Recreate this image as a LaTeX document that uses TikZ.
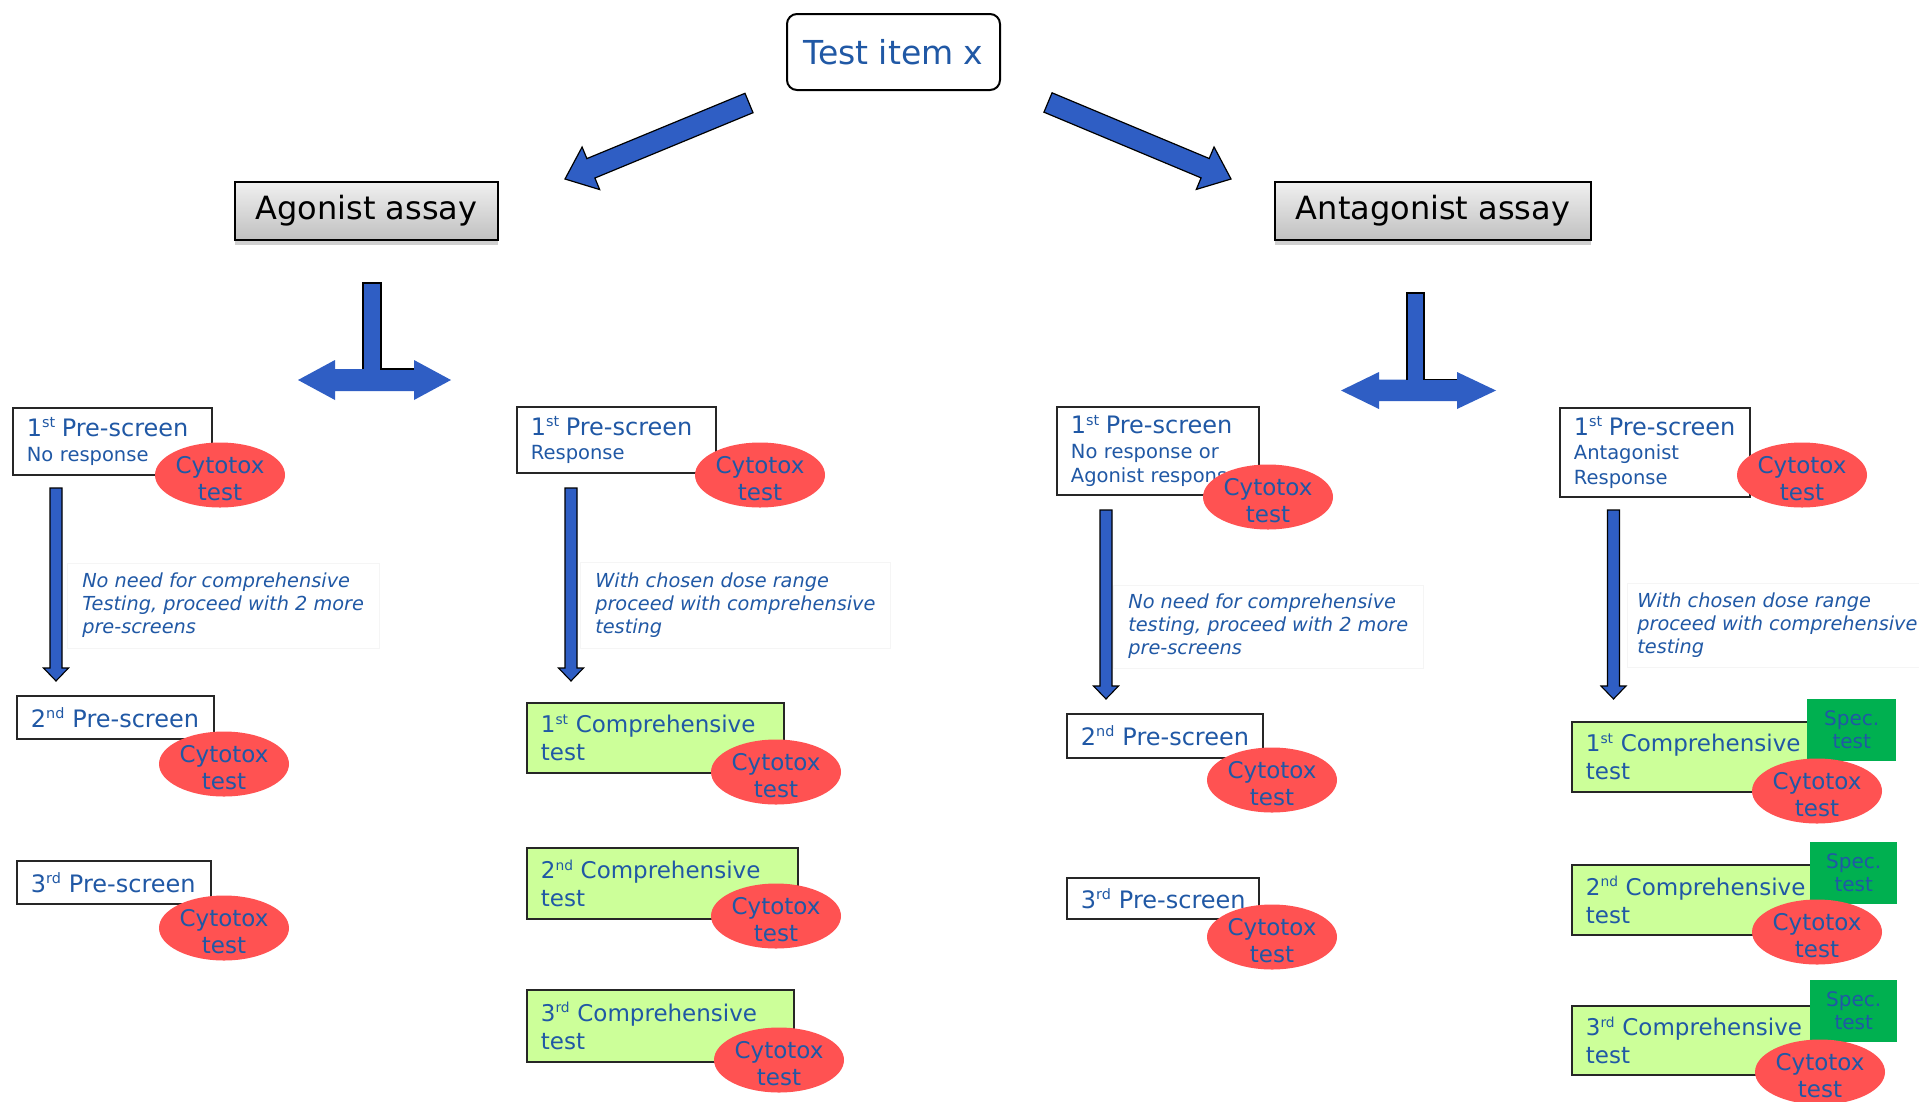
\documentclass[tikz,border=0pt]{standalone}
\usepackage{fontspec}
\setmainfont{DejaVu Sans}
\usepackage{graphicx}
\usetikzlibrary{calc,shapes.geometric,shadows}
\exhyphenpenalty=10000
\hyphenpenalty=10000

\definecolor{txtblue}{RGB}{32,88,165}
\definecolor{arrblue}{RGB}{47,94,196}
\definecolor{cytored}{RGB}{255,82,82}
\definecolor{compgreen}{RGB}{204,255,153}
\definecolor{specgreen}{RGB}{0,176,80}
\definecolor{assaytop}{RGB}{240,240,240}
\definecolor{assaybot}{RGB}{192,192,192}

\newcommand{\sups}[1]{\raisebox{0.36em}{\scalebox{0.6}{#1}}}
\newcommand{\fs}[2]{\fontsize{#1}{#2}\selectfont}

% style, from, to, half shaft, half head, head length
\newcommand{\blockarrow}[6]{%
  \coordinate (ba-n) at ($(#3)!#6!(#2)$);
  \path[#1] ($(#2)!#4!90:(#3)$) -- ($(ba-n)!#4!90:(#3)$) -- ($(ba-n)!#5!90:(#3)$) -- (#3)
     -- ($(ba-n)!#5!-90:(#3)$) -- ($(ba-n)!#4!-90:(#3)$) -- ($(#2)!#4!-90:(#3)$) -- cycle;
}

\tikzset{
  box/.style={draw=black!85, line width=1.8pt, fill=white, anchor=north west,
    inner xsep=14pt, inner ysep=0pt, align=left, text=txtblue, font=\fs{19.5}{24.5}},
  onebox/.style={box, font=\fs{24}{27}},
  compbox/.style={box, fill=compgreen, font=\fs{23}{28}},
  cyto/.style={ellipse, fill=cytored, minimum width=130pt, minimum height=65pt,
    inner sep=-8pt, align=center, text=txtblue, font=\fs{23}{27}},
  spec/.style={fill=specgreen, anchor=north west, inner sep=0pt, align=center,
    text=txtblue, font=\fs{20}{23}},
  note/.style={draw=black!4, line width=0.6pt, fill=white, anchor=west,
    inner xsep=15pt, inner ysep=0pt, align=left, text=txtblue, font=\fs{19.3}{23}\itshape},
  assay/.style={draw=black, line width=2pt, top color=assaytop, bottom color=assaybot,
    drop shadow={shadow xshift=0pt, shadow yshift=-5pt, opacity=0.3, fill=black!60},
    minimum height=58pt, anchor=north west, font=\fs{32}{35}, text=black},
  testbox/.style={draw=black, line width=2pt, rounded corners=10pt, fill=white,
    minimum width=213pt, minimum height=76pt, anchor=north west, text=txtblue, font=\fs{33}{36}},
  blockarr/.style={fill=arrblue, draw=black, line width=1.2pt, line join=miter},
  thinarr/.style={fill=arrblue, draw=black, line width=1.1pt, line join=miter},
  outl/.style={draw=black, line width=1.5pt, line join=miter},
}
\newcommand{\cytotext}{\rule{0pt}{24pt}Cytotox\\test}

\begin{document}
\begin{tikzpicture}[x=1pt,y=-1pt]
\useasboundingbox (0,0) rectangle (1919,1101);
\fill[white] (0,0) rectangle (1919,1101);

% ---- top level
\node[testbox] (test) at (786,13) {Test item x};
\node[assay, minimum width=263pt] (ago) at (234,181) {Agonist assay};
\node[assay, minimum width=316pt] (ant) at (1274,181) {Antagonist assay};

\coordinate (fl-s) at (749,103); \coordinate (fl-e) at (565,179);
\coordinate (fr-s) at (1048,102.5); \coordinate (fr-e) at (1231,179);
\blockarrow{blockarr}{fl-s}{fl-e}{10.5pt}{23pt}{28pt}
\blockarrow{blockarr}{fr-s}{fr-e}{10.5pt}{23pt}{28pt}

% ---- T arrows
\fill[arrblue] (363,283) rectangle (381,385);
\fill[arrblue] (298,380) -- (335,360) -- (335,369) -- (414,369) -- (414,360) -- (451,380)
  -- (414,400) -- (414,391) -- (335,391) -- (335,400) -- cycle;
\draw[outl] (363,369) -- (363,283) -- (381,283) -- (381,369) -- (414,369);

\fill[arrblue] (1407,293) rectangle (1424,395);
\fill[arrblue] (1341,390.5) -- (1379,372) -- (1379,379.5) -- (1457,379.5) -- (1457,372) -- (1496,390.5)
  -- (1457,409) -- (1457,401) -- (1379,401) -- (1379,409) -- cycle;
\draw[outl] (1407,379.5) -- (1407,293) -- (1424,293) -- (1424,379.5) -- (1457,379.5);

% ---- column 1: agonist, no response
\node[box, text width=171pt, minimum width=199pt, minimum height=67pt] (A1) at (12,407)
  {{\fs{24}{24.5}1\sups{st}~Pre-screen}\\No~response};
\node[onebox, text width=169pt, minimum width=197pt, minimum height=43pt] (A2) at (16,695)
  {2\sups{nd}~Pre-screen};
\node[onebox, text width=166pt, minimum width=194pt, minimum height=43pt] (A3) at (16,860)
  {3\sups{rd}~Pre-screen};
\coordinate (a1s) at (56,488); \coordinate (a1e) at (56,681);
\blockarrow{thinarr}{a1s}{a1e}{6pt}{12.5pt}{13pt}
\node[note, minimum height=85pt] (A1n) at (67,605.5)
  {No need for comprehensive\\Testing, proceed with 2 more\\pre-screens};

% ---- column 2: agonist, response
\node[box, text width=171pt, minimum width=199pt, minimum height=66pt] (B1) at (516,406)
  {{\fs{24}{24.5}1\sups{st}~Pre-screen}\\Response};
\node[compbox, text width=229pt, minimum width=257pt, minimum height=70pt] (B2) at (526,702)
  {1\sups{st}~Comprehensive\\test};
\node[compbox, text width=243pt, minimum width=271pt, minimum height=71pt] (B3) at (526,847)
  {2\sups{nd}~Comprehensive\\test};
\node[compbox, text width=239pt, minimum width=267pt, minimum height=72pt] (B4) at (526,989)
  {3\sups{rd}~Comprehensive\\test};
\coordinate (b1s) at (571,488); \coordinate (b1e) at (571,681);
\blockarrow{thinarr}{b1s}{b1e}{6pt}{12.5pt}{13pt}
\node[note, minimum height=86pt] (B1n) at (580,605)
  {With chosen dose range\\proceed with comprehensive\\testing};

% ---- column 3: antagonist, no response
\node[box, text width=174pt, minimum width=202pt, minimum height=88pt] (C1) at (1056,406)
  {{\fs{24}{24.5}1\sups{st}~Pre-screen}\\No~response~or\\Agonist~response};
\node[onebox, text width=168pt, minimum width=196pt, minimum height=44pt] (C2) at (1066,713)
  {2\sups{nd}~Pre-screen};
\node[onebox, text width=164pt, minimum width=192pt, minimum height=41pt] (C3) at (1066,877)
  {3\sups{rd}~Pre-screen};
\coordinate (c1s) at (1106,510); \coordinate (c1e) at (1106,699);
\blockarrow{thinarr}{c1s}{c1e}{6pt}{12.5pt}{13pt}
\node[note, minimum height=83pt] (C1n) at (1113,626.5)
  {No need for comprehensive\\testing, proceed with 2 more\\pre-screens};

% ---- column 4: antagonist, response
\node[box, text width=162pt, minimum width=190pt, minimum height=89pt] (D1) at (1559,407)
  {{\fs{24}{24.5}1\sups{st}~Pre-screen}\\Antagonist\\Response};
\node[compbox, text width=231pt, minimum width=259pt, minimum height=70pt] (D2) at (1571,721)
  {1\sups{st}~Comprehensive\\test};
\node[compbox, text width=231pt, minimum width=259pt, minimum height=70pt] (D3) at (1571,864)
  {2\sups{nd}~Comprehensive\\test};
\node[compbox, text width=231pt, minimum width=259pt, minimum height=69pt] (D4) at (1571,1005)
  {3\sups{rd}~Comprehensive\\test};
\coordinate (d1s) at (1613.5,510); \coordinate (d1e) at (1613.5,699);
\blockarrow{thinarr}{d1s}{d1e}{6pt}{12.5pt}{13pt}
\node[note, inner xsep=10pt, minimum height=84pt] (D1n) at (1627,625)
  {With chosen dose range\\proceed with comprehensive\\testing};

% ---- specificity tests
\node[spec, minimum width=89pt, minimum height=62pt] (D2s) at (1807,699) {Spec.\\test};
\node[spec, minimum width=87pt, minimum height=62pt] (D3s) at (1810,842) {Spec.\\test};
\node[spec, minimum width=87pt, minimum height=62pt] (D4s) at (1810,980) {Spec.\\test};

% ---- cytotox tests
\node[cyto] (A1c) at (220,475) {\cytotext};
\node[cyto] (A2c) at (224,764) {\cytotext};
\node[cyto] (A3c) at (224,928) {\cytotext};
\node[cyto] (B1c) at (760,475) {\cytotext};
\node[cyto] (B2c) at (776,772) {\cytotext};
\node[cyto] (B3c) at (776,916) {\cytotext};
\node[cyto] (B4c) at (779,1060) {\cytotext};
\node[cyto] (C1c) at (1268,497) {\cytotext};
\node[cyto] (C2c) at (1272,780) {\cytotext};
\node[cyto] (C3c) at (1272,937) {\cytotext};
\node[cyto] (D1c) at (1802,475) {\cytotext};
\node[cyto] (D2c) at (1817,791) {\cytotext};
\node[cyto] (D3c) at (1817,932) {\cytotext};
\node[cyto] (D4c) at (1820,1072) {\cytotext};
\end{tikzpicture}
\end{document}
